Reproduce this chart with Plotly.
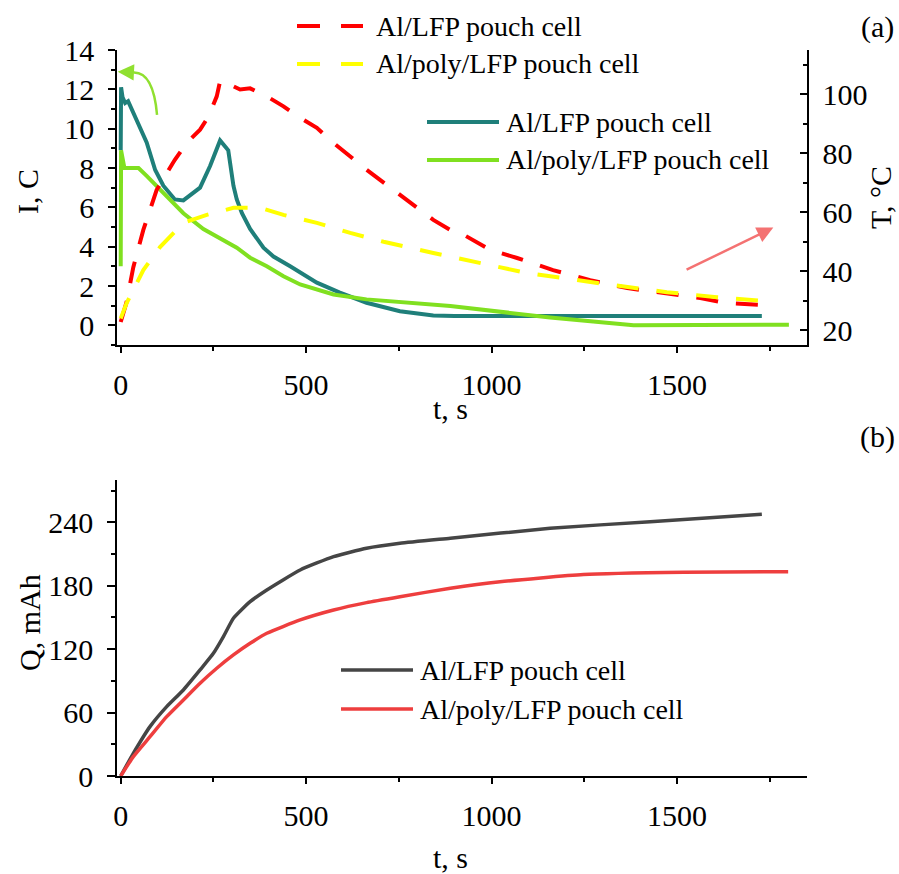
import plotly.graph_objects as go

# ---------------- data ----------------
# (a) current, C-rate
t_I_lfp = [0, 1, 5, 12, 20, 34, 48, 70, 93, 115, 146, 169, 214, 241, 268, 290, 304, 313, 327, 349,
           385, 412, 457, 529, 591, 663, 753, 843, 900, 1100, 1300, 1500, 1729]
I_lfp = [8.9, 12.1, 11.6, 11.3, 11.4, 10.8, 10.3, 9.3, 7.9, 7.1, 6.4, 6.35, 7.0, 8.1, 9.4, 8.9, 7.1, 6.4,
         5.7, 4.9, 3.95, 3.5, 3.0, 2.17, 1.66, 1.15, 0.72, 0.5, 0.47, 0.47, 0.47, 0.47, 0.47]

t_I_poly = [0, 1, 10, 48, 70, 106, 169, 223, 268, 313, 349, 394, 439, 484, 574, 663, 889, 1000, 1158,
            1383, 1600, 1802]
I_poly = [3.0, 8.9, 8.0, 8.0, 7.6, 6.9, 5.7, 4.9, 4.4, 3.95, 3.44, 3.0, 2.5, 2.08, 1.57, 1.32, 0.98,
          0.75, 0.4, 0.0, 0.03, 0.03]

# (a) temperature, deg C
t_T_lfp = [0, 16, 34, 61, 97, 146, 178, 214, 237, 259, 268, 280, 304, 322, 349, 394, 439, 484, 529,
           574, 663, 753, 843, 889, 916, 997, 1069, 1166, 1266, 1366, 1463, 1563, 1635, 1738]
T_lfp = [22.8, 29.6, 41.4, 54, 67.6, 77.8, 83.5, 88, 92.5, 99.3, 104.4, 104.6, 102.7, 101.6, 102,
         99.3, 95.9, 92, 88.6, 83.5, 74.4, 65.9, 57.4, 54, 53, 47.2, 44.5, 40.4, 37, 34.3, 32.6, 30.9,
         29.2, 28.5]

t_T_poly = [0, 16, 61, 106, 169, 232, 304, 376, 439, 529, 619, 709, 843, 934, 1096, 1293, 1473, 1608, 1766]
T_poly = [24, 29.2, 40.4, 48.2, 56.4, 59.1, 61.5, 61.5, 59.1, 56.4, 53, 50, 46.2, 43.8, 39.4, 35.9,
          32.9, 31.2, 29.6]

# (b) capacity, mAh
t_Q_lfp = [0, 34, 79, 124, 169, 214, 250, 277, 304, 349, 394, 484, 574, 663, 753, 889, 1158, 1428, 1729]
Q_lfp = [0, 21.4, 46.7, 65.6, 81.4, 100.3, 116, 131.8, 149.2, 164.9, 176, 194.9, 207.5, 215.4, 220.1,
         224.9, 234.3, 240.6, 247.6]

t_Q_poly = [0, 34, 79, 124, 169, 214, 259, 304, 349, 394, 484, 574, 663, 753, 889, 1023, 1248, 1518, 1800]
Q_poly = [0, 18.3, 37.2, 56.1, 71.9, 87.7, 101.9, 114.5, 125.5, 135, 147.6, 157, 164, 169.6, 177.6,
          183.8, 190.6, 192.7, 193.3]

name_lfp = "Al/LFP pouch cell"
name_poly = "Al/poly/LFP pouch cell"

x_ticks = [0, 500, 1000, 1500]
I_ticks = [0, 2, 4, 6, 8, 10, 12, 14]
T_ticks = [20, 40, 60, 80, 100]
Q_ticks = [0, 60, 120, 180, 240]

# ---------------- styling ----------------
W, H = 899, 874
FONT = "Liberation Serif, DejaVu Serif, serif"
TEAL = "#1F7F7A"
LIME = "#80E020"
RED = "#FF0000"
YELLOW = "#FFFF00"
GRAY = "#454545"
QRED = "#EE3E3E"
DASH = "22px,18px"


def px(x):
    return x / W


def py(y):
    return 1 - y / H


fig = go.Figure()

fig.add_trace(go.Scatter(x=t_I_lfp, y=I_lfp, mode="lines", name=name_lfp,
                         line=dict(color=TEAL, width=4), xaxis="x", yaxis="y", showlegend=False))
fig.add_trace(go.Scatter(x=t_I_poly, y=I_poly, mode="lines", name=name_poly,
                         line=dict(color=LIME, width=4), xaxis="x", yaxis="y", showlegend=False))
fig.add_trace(go.Scatter(x=t_T_lfp, y=T_lfp, mode="lines", name=name_lfp,
                         line=dict(color=RED, width=4, dash=DASH), xaxis="x", yaxis="y2",
                         showlegend=False))
fig.add_trace(go.Scatter(x=t_T_poly, y=T_poly, mode="lines", name=name_poly,
                         line=dict(color=YELLOW, width=4, dash=DASH), xaxis="x", yaxis="y2",
                         showlegend=False))
fig.add_trace(go.Scatter(x=t_Q_lfp, y=Q_lfp, mode="lines", name=name_lfp,
                         line=dict(color=GRAY, width=3.5, shape="spline", smoothing=0.5),
                         xaxis="x2", yaxis="y3", showlegend=False))
fig.add_trace(go.Scatter(x=t_Q_poly, y=Q_poly, mode="lines", name=name_poly,
                         line=dict(color=QRED, width=3.5, shape="spline", smoothing=0.5),
                         xaxis="x2", yaxis="y3", showlegend=False))

dom_x = [px(117), px(806.7)]
tickfont = dict(family=FONT, size=30, color="black")
common = dict(showline=True, linecolor="black", linewidth=1.5, showgrid=False, zeroline=False,
              tickcolor="black", tickwidth=1.5, tickfont=tickfont, automargin=False)

fig.update_layout(
    width=W, height=H, margin=dict(l=0, r=0, t=0, b=0),
    paper_bgcolor="white", plot_bgcolor="white",
    font=dict(family=FONT, size=28, color="black"),
    xaxis=dict(domain=dom_x, anchor="y", range=[-10, 1850], tickvals=x_ticks, ticks="outside",
               ticklen=6, ticklabelstandoff=6,
               minor=dict(tickvals=[250, 750, 1250, 1750], ticks="outside", ticklen=4,
                          tickcolor="black", tickwidth=1.5), **common),
    yaxis=dict(domain=[py(345), py(50)], anchor="x", range=[-1, 14], tickvals=I_ticks,
               ticks="outside", ticklen=7, ticklabelstandoff=8,
               minor=dict(dtick=1, tick0=1, ticks="outside", ticklen=4, tickcolor="black",
                          tickwidth=1.5), **common),
    yaxis2=dict(overlaying="y", side="right", anchor="x", range=[15, 115], tickvals=T_ticks,
                ticks="inside", ticklen=7, ticklabelstandoff=8,
                minor=dict(dtick=10, tick0=10, ticks="inside", ticklen=4, tickcolor="black",
                           tickwidth=1.5), **common),
    xaxis2=dict(domain=dom_x, anchor="y3", range=[-10, 1850], tickvals=x_ticks, ticks="outside",
                ticklen=6, ticklabelstandoff=6,
                minor=dict(tickvals=[250, 750, 1250, 1750], ticks="outside", ticklen=4,
                           tickcolor="black", tickwidth=1.5), **common),
    yaxis3=dict(domain=[py(776), py(480)], anchor="x2", range=[0, 280], tickvals=Q_ticks,
                ticks="outside", ticklen=8, ticklabelstandoff=8,
                minor=dict(dtick=30, tick0=30, ticks="outside", ticklen=4, tickcolor="black",
                           tickwidth=1.5), **common),
)

# ---------------- text ----------------
def text(s, x, y, size=30, angle=0, xanchor="center"):
    fig.add_annotation(text=s, x=px(x), y=py(y), xref="paper", yref="paper", showarrow=False,
                       font=dict(family=FONT, size=size, color="black"), textangle=angle,
                       xanchor=xanchor, yanchor="middle")


text("I, C", 28, 192, angle=-90)
text("T, °C", 880, 198, angle=-90)
text("t, s", 450, 408)
text("(a)", 877, 27)
text("(b)", 877, 437)
text("Q, mAh", 29, 623, angle=-90)
text("t, s", 450, 857)

# ---------------- manual legends ----------------
def legend_item(x0, x1, y, color, width, label, tx, dash=None):
    fig.add_shape(type="line", xref="paper", yref="paper", x0=px(x0), x1=px(x1), y0=py(y), y1=py(y),
                  line=dict(color=color, width=width, dash=dash))
    text(label, tx, y, size=28, xanchor="left")


legend_item(297, 363, 26, RED, 4, name_lfp, 374, dash="23px,21px")
legend_item(297, 363, 64, YELLOW, 4, name_poly, 374, dash="23px,21px")
legend_item(427, 499, 122, TEAL, 4, name_lfp, 504)
legend_item(427, 499, 160, LIME, 4, name_poly, 504)
legend_item(341, 413, 670, GRAY, 3.5, name_lfp, 418)
legend_item(341, 413, 709, QRED, 3.5, name_poly, 418)

# ---------------- arrows ----------------
fig.add_shape(type="path", xref="x", yref="y", path="M 98,10.7 Q 88,12.9 34,12.86",
              line=dict(color="#90E030", width=2.5))
fig.add_annotation(x=-8, y=12.9, ax=34, ay=12.86, xref="x", yref="y", axref="x", ayref="y",
                   showarrow=True, arrowhead=2, arrowsize=1.3, arrowwidth=2.5, arrowcolor="#90E030",
                   text="")
fig.add_annotation(x=1760, y=4.97, ax=1522, ay=2.79, xref="x", yref="y", axref="x", ayref="y",
                   showarrow=True, arrowhead=2, arrowsize=1.3, arrowwidth=2.5, arrowcolor="#F47272",
                   text="")

fig.write_html("out.html", config={"displayModeBar": False},
               post_script="document.body.style.margin='0';document.body.style.overflow='hidden';")
